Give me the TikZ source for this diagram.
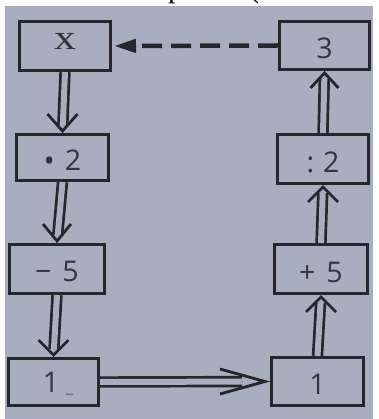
\documentclass[tikz,border=0pt]{standalone}
\usepackage{fontspec}
\usepackage{graphicx}
\usetikzlibrary{arrows.meta,calc}
\newfontfamily\opsans{Open Sans}
\newfontfamily\tnr{Liberation Serif}
\definecolor{paper}{RGB}{168,173,192}
\definecolor{ink}{RGB}{38,38,44}
\definecolor{numink}{RGB}{52,52,62}
% move box text up or down without changing its size
\newcommand\shiftnum[2]{\raisebox{#1}[\height][\depth]{#2}}

\begin{document}
\begin{tikzpicture}[x=1pt,y=-1pt,
  box/.style={draw=ink, line width=3pt, inner sep=0pt,
    minimum width=91pt, minimum height=48pt,
    font=\opsans\fontsize{28.5}{28.5}\selectfont, text=numink},
  dbl/.style={draw=ink, line width=2.7pt, double=paper, double distance=6pt},
  chev/.style={draw=ink, line width=2.8pt, line join=miter, line cap=butt},
  dashline/.style={draw=ink, line width=4.5pt, dash pattern=on 20pt off 9pt,
    -{Triangle[length=22pt,width=13pt]}}]

\useasboundingbox (0,0) rectangle (378,419);
\fill[white] (0,0) rectangle (378,419);
\fill[paper] (5,6) rectangle (373,419);

% tail ends of the line of print above
\begin{scope}
  \clip (0,0) rectangle (378,6);
  \node[anchor=base west, inner sep=0pt, font=\tnr\fontsize{30}{30}\selectfont] (frag1) at (168,-2.5) {p};
  \node[anchor=base west, inner sep=0pt, font=\tnr\fontsize{30}{30}\selectfont] (frag2) at (249,-2.5) {(};
\end{scope}

% the boxes
\node[box, minimum width=91pt, minimum height=49pt] (x) at (65,46)
  {\shiftnum{5pt}{\tnr\fontsize{35}{35}\selectfont\scalebox{1.25}[1]{x}}};
\node[box, minimum width=92pt, minimum height=46pt] (mul) at (62.5,157.5)
  {\shiftnum{-3pt}{{\fontsize{30}{30}\selectfont\raisebox{-0.5pt}{•}}\hspace{10pt}2}};
\node[box, minimum width=95pt, minimum height=49pt] (sub) at (57,269)
  {\shiftnum{-2pt}{−\hspace{11pt}5}};
\node[box, minimum width=90pt, minimum height=47pt] (oneL) at (53.5,382)
  {\shiftnum{0pt}{1\hspace{5pt}}};
\node[box, minimum width=90pt, minimum height=48pt] (three) at (324.5,45.5)
  {\shiftnum{-2.5pt}{3}};
\node[box, minimum width=91pt, minimum height=49pt] (div) at (323,159)
  {\shiftnum{-3pt}{:\hspace{9pt}2}};
\node[box, minimum width=93pt, minimum height=49pt] (add) at (321,269)
  {\shiftnum{-3pt}{+\hspace{11pt}5}};
\node[box, minimum width=92pt, minimum height=48pt] (oneR) at (317.5,381.5)
  {\shiftnum{-2.5pt}{1}};

% small stray mark beside the left 1
\draw[numink!45!paper, line width=1.4pt] (66,394) -- (73,394.5);

% left column, downwards
\draw[dbl, shorten >=8pt] (x.south) -- (mul.north);
\draw[chev] ($(mul.north)+(-15,-19)$) -- ($(mul.north)+(0,-2)$) -- ($(mul.north)+(15,-19)$);
\draw[dbl, shorten >=8pt] (mul.south) -- (sub.north);
\draw[chev] ($(sub.north)+(-14,-19)$) -- ($(sub.north)+(0,-2)$) -- ($(sub.north)+(14,-19)$);
\draw[dbl, shorten >=8pt] (sub.south) -- (oneL.north);
\draw[chev] ($(oneL.north)+(-15,-17)$) -- ($(oneL.north)+(0,-2)$) -- ($(oneL.north)+(15,-17)$);

% bottom, to the right
\draw[dbl, shorten >=28pt] (oneL.east) -- (oneR.west);
\draw[chev] ($(oneR.west)+(-50,-12.5)$) -- ($(oneR.west)+(-5,0)$) -- ($(oneR.west)+(-50,12.5)$);

% right column, upwards
\draw[dbl, shorten >=8pt] (oneR.north) -- (add.south);
\draw[chev] ($(add.south)+(-15,17)$) -- ($(add.south)+(0,2)$) -- ($(add.south)+(15,17)$);
\draw[dbl, shorten >=8pt] (add.north) -- (div.south);
\draw[chev] ($(div.south)+(-15,17)$) -- ($(div.south)+(0,2)$) -- ($(div.south)+(15,17)$);
\draw[dbl, shorten >=8pt] (div.north) -- (three.south);
\draw[chev] ($(three.south)+(-14,17)$) -- ($(three.south)+(0,2)$) -- ($(three.south)+(14,17)$);

% back to the start
\draw[dashline, shorten >=2pt] (three.west) -- (x.east);
\end{tikzpicture}
\end{document}
